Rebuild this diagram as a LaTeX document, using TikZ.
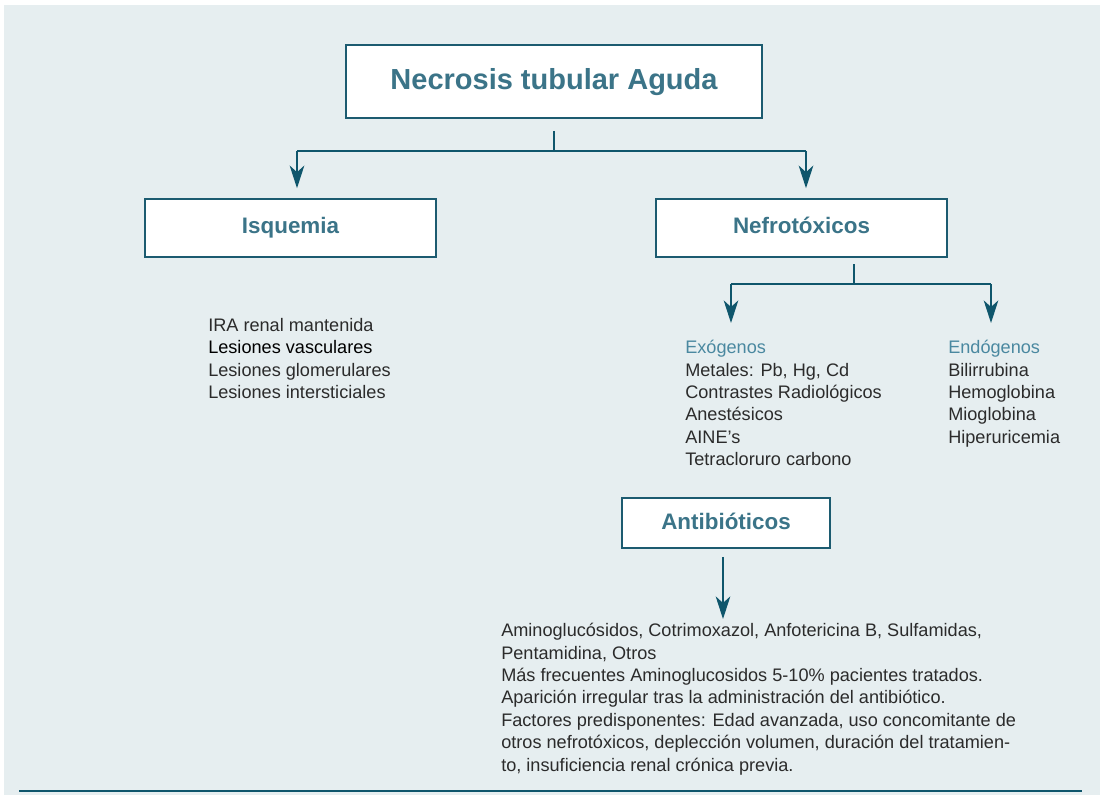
\documentclass[tikz,border=0pt]{standalone}
\usepackage{fontspec}
\setmainfont{Liberation Sans}
\usetikzlibrary{arrows.meta}

\definecolor{ntbg}{HTML}{E6EEF0}
\definecolor{ntborder}{HTML}{1C5B70}
\definecolor{ntline}{HTML}{0F566C}
\definecolor{nttext}{HTML}{3B7488}
\definecolor{nthead}{HTML}{4A88A0}
\definecolor{ntbody}{HTML}{2B2B2B}

\begin{document}
\begin{tikzpicture}[x=0.75pt, y=-0.75pt,
    box/.style={draw=ntborder, line width=1.2pt, fill=white, text=nttext,
        text height=12pt, text depth=3pt,
        font=\bfseries\fontsize{16.8}{20}\selectfont},
    conn/.style={draw=ntline, line width=1.3pt},
    arr/.style={draw=ntline, line width=0.9pt,
        -{Stealth[length=17pt, width=11pt, inset=5pt]}},
    itemtext/.style={anchor=north west, inner sep=0pt, align=left, text=ntbody,
        font=\fontsize{13.6}{16.8}\selectfont}]
    \useasboundingbox (0,0) rectangle (1104,795);
    \fill[ntbg] (4,5) rectangle (1100,795);

    % Boxes
    \node[box, minimum width=312pt, minimum height=54.75pt, text height=16pt, text depth=4pt,
        font=\bfseries\fontsize{21.75}{26}\selectfont] (title) at (554,81.5) {Necrosis tubular Aguda};
    \node[box, minimum width=218.25pt, minimum height=43.5pt] (isq) at (290.5,228) {Isquemia};
    \node[box, minimum width=218.25pt, minimum height=43.5pt] (nefro) at (801.5,228) {Nefrotóxicos};
    \node[box, minimum width=156pt, minimum height=37.5pt] (antib) at (726,523) {Antibióticos};

    % Lists
    \node[itemtext] (isqlist) at (208,318) {IRA renal mantenida\\
        \textcolor{black}{Lesiones vasculares}\\
        Lesiones glomerulares\\
        Lesiones intersticiales};
    \node[itemtext] (exo) at (685,340) {\textcolor{nthead}{Exógenos}\\
        Metales: Pb, Hg, Cd\\
        Contrastes Radiológicos\\
        Anestésicos\\
        AINE’s\\
        Tetracloruro carbono};
    \node[itemtext] (endo) at (948,340) {\textcolor{nthead}{Endógenos}\\
        Bilirrubina\\
        Hemoglobina\\
        Mioglobina\\
        Hiperuricemia};
    \node[itemtext] (abtext) at (501,623) {Aminoglucósidos, Cotrimoxazol, Anfotericina B, Sulfamidas,\\
        Pentamidina, Otros\\
        Más frecuentes Aminoglucosidos 5-10\% pacientes tratados.\\
        Aparición irregular tras la administración del antibiótico.\\
        Factores predisponentes: Edad avanzada, uso concomitante de\\
        otros nefrotóxicos, deplección volumen, duración del tratamien-\\
        to, insuficiencia renal crónica previa.};

    % Connectors
    \coordinate (f1) at (554,151);
    \coordinate (f1l) at (297,151);
    \coordinate (f1r) at (806,151);
    \draw[conn] ([yshift=-9pt]title.south) -- (f1);
    \draw[conn] (f1l) -- (f1r);
    \draw[arr, shorten >=7.5pt] (f1l) -- (f1l |- isq.north);
    \draw[arr, shorten >=7.5pt] (f1r) -- (f1r |- nefro.north);

    \coordinate (f2) at (854,284);
    \coordinate (f2l) at (731,284);
    \coordinate (f2r) at (991,284);
    \draw[conn, shorten <=5pt] (f2 |- nefro.south) -- (f2);
    \draw[conn] (f2l) -- (f2r);
    \draw[arr, shorten >=12.75pt] (f2l) -- (f2l |- exo.north);
    \draw[arr, shorten >=12.75pt] (f2r) -- (f2r |- endo.north);

    \coordinate (f3) at (723,560);
    \draw[arr, shorten <=6pt, shorten >=3pt] (antib.south -| f3) -- (f3 |- abtext.north);

    % Bottom rule
    \draw[ntline, line width=2pt] (19,791) -- (1082,791);
\end{tikzpicture}
\end{document}
